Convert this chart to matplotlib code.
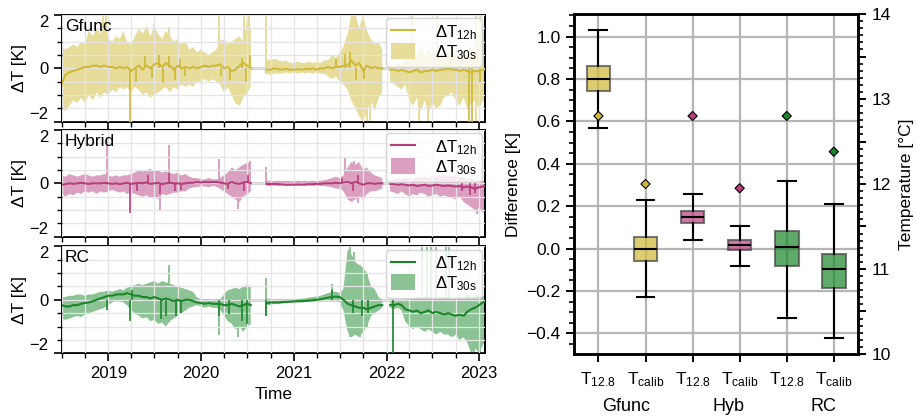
import numpy as np
import pandas as pd
import matplotlib
matplotlib.use('Agg')
import matplotlib.pyplot as plt
import matplotlib.dates as mdates
from matplotlib.ticker import MultipleLocator, FuncFormatter
from matplotlib.lines import Line2D
from matplotlib.patches import Patch
import matplotlib.transforms as mtrans

plt.rcParams['font.family'] = ['Liberation Sans', 'DejaVu Sans']
plt.rcParams['mathtext.fontset'] = 'custom'
plt.rcParams['mathtext.rm'] = 'Liberation Sans'
plt.rcParams['mathtext.it'] = 'Liberation Sans:italic'
plt.rcParams['mathtext.bf'] = 'Liberation Sans:bold'
plt.rcParams['font.size'] = 12

nan = np.nan
# semi-monthly sampling (1st and 15th of each month)
dates = pd.date_range('2018-07-01', '2023-02-01', freq='SMS')

# ---------------- Gfunc ----------------
gf_hi = [0.8, 0.7, 0.8, 0.9, 0.8, 1.0, 0.9, 1.4, 1.2, 1.5,
         1.3, 1.8, 1.1, 1.0, 1.2, 1.1, 1.4, 1.0, 0.9, 1.2,
         1.5, 1.3, 1.6, 1.2, 1.6, 1.3, 1.1, 1.4, 1.2, 1.0,
         1.1, 0.9, 1.0, 0.7, 0.8, 0.6, 0.7, 0.6, 0.5, 0.6,
         0.7, 1.0, 1.1, 0.9, 1.0, 1.1, 1.2, 1.0, 1.9, 1.5,
         nan, nan, nan, 0.35, 0.3, 0.35, 0.3, 0.25, 0.3, 0.2,
         0.2, 0.25, 0.2, 0.2, 0.25, 0.2, 0.25, 0.2, 0.3, 0.3,
         0.5, 0.4, 0.6, 0.8, 1.3, 2.0, 2.0, 1.5, 2.0, 1.4,
         1.1, 0.9, 1.0, 0.7, nan, 0.1, 0.1, 0.15, 0.2, 0.3,
         0.4, 0.6, 0.5, 0.8, 0.5, 0.7, 0.5, 0.8, 0.5, 0.6,
         0.7, 0.5, 0.6, 0.5, 0.7, 0.5, 0.8, 0.6, 1.2, 1.5, 1.2]
gf_lo = [-1.5, -1.6, -1.4, -1.2, -1.3, -1.1, -1.3, -1.0, -1.2, -0.9,
         -1.1, -0.9, -1.0, -0.8, -0.9, -0.7, -0.8, -0.7, -0.9, -0.7,
         -0.8, -1.0, -0.9, -1.1, -1.0, -0.9, -0.8, -0.7, -0.9, -0.7,
         -0.8, -0.6, -0.7, -0.6, -0.7, -0.5, -0.5, -0.4, -0.5, -0.4,
         -0.5, -0.6, -0.9, -0.7, -1.0, -1.3, -1.4, -1.1, -0.9, -0.7,
         nan, nan, nan, -0.2, -0.25, -0.2, -0.2, -0.2, -0.15, -0.2,
         -0.15, -0.2, -0.15, -0.2, -0.15, -0.2, -0.15, -0.2, -0.2, -0.3,
         -0.4, -0.3, -0.5, -0.6, -0.8, -1.2, -1.5, -1.8, -2.0, -1.6,
         -1.2, -1.6, -1.1, -0.9, nan, -0.5, -0.6, -0.7, -0.8, -0.6,
         -1.2, -1.4, -1.1, -1.6, -1.2, -1.7, -1.3, -1.5, -1.4, -1.1,
         -1.0, -0.9, -1.2, -1.4, -1.1, -1.5, -1.3, -1.2, -1.5, -1.2, -1.3]
gf_12h = [-0.6, -0.25, -0.15, -0.1, -0.05, 0.0, 0.05, 0.05, 0.1, 0.1,
          0.05, 0.1, 0.05, 0.05, 0.0, 0.05, 0.0, 0.05, -0.1, 0.0,
          0.1, -0.05, 0.1, 0.0, 0.15, 0.2, 0.05, 0.2, 0.1, -0.05,
          0.1, 0.0, 0.05, 0.0, 0.05, 0.0, 0.05, 0.1, 0.05, 0.1,
          0.1, 0.15, 0.0, 0.05, -0.1, -0.05, 0.1, 0.2, 0.1, 0.0,
          nan, nan, nan, -0.05, -0.05, 0.0, -0.03, -0.05, -0.02, -0.05,
          -0.05, -0.03, -0.05, -0.02, -0.03, 0.0, -0.05, 0.0, 0.0, 0.05,
          0.0, 0.05, 0.05, 0.1, 0.1, 0.3, 0.1, 0.2, -0.1, 0.1,
          0.0, 0.05, 0.0, 0.0, nan, -0.05, -0.05, -0.1, -0.05, -0.1,
          -0.15, -0.1, -0.05, -0.15, -0.1, -0.1, -0.05, -0.1, -0.05, -0.05,
          0.0, -0.05, -0.05, -0.1, -0.05, -0.1, -0.15, -0.1, -0.1, -0.05, -0.05]
gf_sp_dates = ['2018-12-10', '2018-12-22', '2019-06-28', '2019-08-28', '2020-03-10',
               '2020-06-20', '2020-07-08', '2020-09-14', '2021-10-15', '2021-10-28',
               '2022-04-10', '2022-05-10', '2022-06-15', '2022-07-20', '2022-12-20',
               '2023-01-10']
gf_sp_lo = [0.0, 0.0, 0.0, 0.0, 0.0, 0.0, 0.0, -0.2, -2.0, -2.0,
            0.0, -2.0, -2.0, 0.0, -2.0, -1.0]
gf_sp_hi = [2.0, 2.0, 1.65, 1.55, 2.0, 2.0, 2.0, 2.0, 0.0, 0.0,
            2.0, 0.0, 0.0, 2.0, 2.0, 2.0]
gf_ln_dates = ['2019-03-28', '2019-04-20', '2019-05-25', '2019-06-20', '2019-07-20',
               '2019-08-05', '2019-08-28', '2019-09-20', '2019-10-10', '2019-10-28',
               '2020-03-20', '2020-04-25', '2020-06-10', '2020-06-28', '2020-07-10',
               '2021-06-15', '2021-07-20', '2021-08-10', '2021-09-01', '2021-10-05',
               '2022-11-22', '2022-12-03', '2023-01-05']
gf_ln_vals = [-2.0, -0.5, 0.45, -0.35, 0.5, -0.55, 0.45, -0.45, 0.35, -0.3,
              -0.3, -0.45, 0.4, -0.5, 0.5, 0.35, 0.55, 0.6, -0.45, -0.4,
              -2.0, -2.0, -0.5]

# ---------------- Hybrid ----------------
hy_hi = [0.3, 0.25, 0.35, 0.3, 0.25, 0.3, 0.35, 0.3, 0.25, 0.3,
         0.3, 0.35, 0.3, 0.25, 0.3, 0.25, 0.3, 0.3, 0.35, 0.4,
         0.5, 0.45, 0.5, 0.55, 0.45, 0.5, 0.4, 0.45, 0.4, 0.35,
         0.4, 0.3, 0.35, 0.25, 0.2, 0.2, 0.15, 0.15, 0.2, 0.15,
         0.15, 0.2, 0.3, 0.4, 0.6, 0.5, 0.6, 0.7, 0.75, 0.8,
         nan, nan, nan, 0.1, 0.1, 0.08, 0.1, 0.08, 0.1, 0.08,
         0.08, 0.1, 0.08, 0.1, 0.08, 0.1, 0.08, 0.1, 0.12, 0.15,
         0.2, 0.25, 0.2, 0.3, 0.6, 0.8, 0.7, 0.8, 0.5, 0.6,
         0.4, 0.3, 0.25, 0.2, nan, 0.1, 0.15, 0.2, 0.15, 0.2,
         0.2, 0.15, 0.25, 0.2, 0.25, 0.2, 0.3, 0.25, 0.3, 0.25,
         0.3, 0.25, 0.3, 0.2, 0.25, 0.15, 0.2, 0.1, 0.15, 0.1, 0.1]
hy_lo = [-0.4, -0.5, -0.4, -0.45, -0.35, -0.4, -0.3, -0.35, -0.3, -0.4,
         -0.3, -0.35, -0.3, -0.25, -0.3, -0.35, -0.3, -0.4, -0.35, -0.4,
         -0.45, -0.5, -0.45, -0.55, -0.5, -0.6, -0.4, -0.45, -0.4, -0.35,
         -0.35, -0.3, -0.3, -0.2, -0.15, -0.15, -0.1, -0.12, -0.15, -0.1,
         -0.12, -0.2, -0.3, -0.4, -0.5, -0.6, -0.7, -0.5, -0.4, -0.3,
         nan, nan, nan, -0.1, -0.1, -0.08, -0.1, -0.08, -0.1, -0.08,
         -0.08, -0.1, -0.08, -0.1, -0.08, -0.1, -0.08, -0.1, -0.1, -0.12,
         -0.15, -0.2, -0.2, -0.3, -0.6, -0.7, -0.6, -0.5, -0.6, -0.4,
         -0.3, -0.3, -0.25, -0.2, nan, -0.3, -0.35, -0.4, -0.3, -0.4,
         -0.5, -0.4, -0.45, -0.35, -0.4, -0.5, -0.45, -0.4, -0.5, -0.45,
         -0.5, -0.55, -0.6, -0.5, -0.7, -0.8, -0.9, -1.0, -0.9, -1.1, -1.0]
hy_12h = [-0.05, -0.03, 0.0, -0.02, 0.0, 0.02, 0.0, -0.02, 0.0, 0.0,
          0.0, 0.02, 0.0, -0.02, 0.0, -0.03, 0.0, 0.02, -0.02, 0.0,
          0.02, 0.0, 0.03, -0.02, 0.0, 0.02, -0.03, 0.0, 0.02, 0.0,
          0.0, -0.02, 0.0, 0.02, 0.02, 0.05, 0.03, 0.05, 0.04, 0.05,
          0.05, 0.03, 0.0, -0.02, 0.05, 0.0, -0.02, 0.03, 0.05, 0.0,
          nan, nan, nan, -0.02, -0.03, -0.02, -0.03, -0.04, -0.05, -0.05,
          -0.05, -0.04, -0.05, -0.04, -0.03, -0.03, -0.02, -0.02, 0.0, 0.0,
          0.0, 0.02, 0.0, 0.03, 0.05, 0.0, 0.05, 0.0, -0.05, 0.0,
          0.0, -0.02, 0.0, 0.0, nan, -0.02, -0.03, -0.05, -0.03, -0.05,
          -0.08, -0.05, -0.1, -0.08, -0.05, -0.1, -0.08, -0.05, -0.08, -0.1,
          -0.08, -0.1, -0.12, -0.1, -0.15, -0.12, -0.15, -0.2, -0.15, -0.12, -0.1]
hy_sp_dates = ['2018-12-26', '2019-07-22', '2019-08-28', '2020-03-10', '2020-05-25',
               '2020-07-10', '2020-09-14', '2021-07-20', '2021-08-25', '2021-09-10',
               '2022-12-25']
hy_sp_lo = [0.0, -1.0, 0.0, 0.0, -0.95, 0.0, 0.0, 0.0, 0.0, -0.75, -1.15]
hy_sp_hi = [1.6, 0.0, 1.45, 0.9, 0.0, 0.85, 0.6, 0.95, 0.85, 0.0, 0.0]
hy_ln_dates = ['2019-03-28', '2019-04-25', '2019-06-05', '2019-07-22', '2019-08-28',
               '2019-09-20', '2019-10-15', '2020-04-15', '2020-06-20', '2020-07-05',
               '2021-07-10', '2021-08-20', '2021-09-10', '2022-10-25', '2022-11-25',
               '2022-12-15']
hy_ln_vals = [-1.1, -0.3, 0.3, -0.4, 0.4, -0.3, -0.25, -0.2, -0.3, 0.3,
              0.2, -0.3, 0.3, -0.3, -0.45, -0.35]

# ---------------- RC ----------------
rc_hi = [0.1, 0.1, 0.15, 0.15, 0.2, 0.2, 0.15, 0.2, 0.2, 0.25,
         0.3, 0.3, 0.35, 0.3, 0.35, 0.4, 0.35, 0.45, 0.5, 0.55,
         0.6, 0.55, 0.6, 0.65, 0.7, 0.6, 0.7, 0.65, 0.6, 0.55,
         0.5, 0.45, 0.4, 0.35, 0.3, 0.1, 0.0, 0.02, 0.0, 0.0,
         0.02, 0.0, 0.2, 0.35, 0.4, 0.45, 0.4, 0.5, 0.55, 0.5,
         nan, nan, nan, 0.05, 0.03, 0.0, 0.02, 0.0, 0.02, 0.0,
         0.02, 0.03, 0.05, 0.05, 0.08, 0.1, 0.12, 0.15, 0.2, 0.25,
         0.3, 0.3, 0.25, 0.4, 1.9, 1.7, 1.4, 1.3, 1.2, 1.0,
         0.5, 0.4, 0.1, 0.0, nan, -0.05, -0.05, 0.0, -0.05, 0.0,
         0.05, 0.0, 0.1, 0.05, 0.1, 0.05, 0.1, 0.0, 0.1, 0.05,
         0.1, 0.0, 0.05, 0.1, 0.0, 0.2, 0.1, 0.15, 0.2, 0.15, 0.1]
rc_lo = [-0.7, -0.75, -0.7, -0.65, -0.6, -0.65, -0.55, -0.5, -0.45, -0.4,
         -0.35, -0.3, -0.2, -0.1, 0.0, -0.05, -0.1, -0.2, -0.4, -0.5,
         -0.6, -0.7, -0.65, -0.8, -0.75, -0.9, -0.85, -1.0, -0.8, -0.7,
         -0.6, -0.5, -0.4, -0.3, -0.25, -0.2, -0.25, -0.3, -0.25, -0.3,
         -0.3, -0.35, -0.6, -0.8, -0.9, -1.1, -1.0, -1.2, -1.0, -0.9,
         nan, nan, nan, -0.2, -0.2, -0.15, -0.15, -0.15, -0.12, -0.12,
         -0.1, -0.1, -0.1, -0.08, -0.05, -0.05, -0.02, 0.0, 0.0, -0.05,
         0.0, -0.05, -0.1, -0.4, -1.2, -1.4, -1.3, -1.4, -1.2, -1.0,
         -0.6, -0.5, -0.4, -0.3, nan, -0.3, -0.35, -0.3, -0.4, -0.8,
         -1.0, -1.1, -1.0, -1.1, -1.2, -1.1, -1.2, -1.3, -1.2, -1.3,
         -1.3, -1.4, -1.3, -1.5, -1.4, -1.6, -2.0, -1.8, -2.0, -1.7, -1.5]
rc_12h = [-0.2, -0.25, -0.25, -0.2, -0.2, -0.15, -0.12, -0.1, -0.05, 0.0,
          0.05, 0.1, 0.15, 0.15, 0.2, 0.2, 0.2, 0.25, 0.2, 0.15,
          0.15, 0.1, 0.1, 0.05, 0.1, 0.05, 0.0, 0.05, 0.0, -0.05,
          0.0, -0.05, 0.0, 0.0, -0.05, -0.1, -0.12, -0.15, -0.12, -0.15,
          -0.15, -0.15, -0.2, -0.2, -0.15, -0.2, -0.25, -0.2, -0.15, -0.2,
          nan, nan, nan, -0.12, -0.1, -0.1, -0.1, -0.08, -0.08, -0.07,
          -0.06, -0.05, -0.05, -0.04, -0.03, -0.02, 0.0, 0.02, 0.05, 0.08,
          0.1, 0.12, 0.1, 0.0, -0.15, -0.2, -0.25, -0.3, -0.3, -0.35,
          -0.3, -0.25, -0.2, -0.2, nan, -0.2, -0.2, -0.15, -0.2, -0.35,
          -0.4, -0.45, -0.4, -0.5, -0.45, -0.4, -0.5, -0.45, -0.5, -0.55,
          -0.5, -0.55, -0.6, -0.55, -0.6, -0.45, -0.35, -0.3, -0.2, -0.1, -0.05]
rc_sp_dates = ['2019-08-28', '2020-03-10', '2020-05-25', '2020-09-14', '2021-06-01',
               '2021-08-10', '2021-08-25', '2021-09-20', '2021-10-15', '2022-05-20',
               '2022-06-10', '2022-06-25', '2022-07-15', '2022-08-25', '2022-09-05',
               '2022-12-10', '2023-01-05']
rc_sp_lo = [0.0, -1.3, -1.4, -0.6, 0.0, -1.4, 0.0, -1.4, -1.0, 0.0,
            0.0, 0.0, 0.0, 0.0, 0.0, -2.0, -2.0]
rc_sp_hi = [1.3, 0.0, 0.0, 0.8, 0.6, 2.0, 1.8, 1.3, 1.0, 2.0,
            2.0, 2.0, 2.0, 2.0, 2.0, 0.0, 0.0]
rc_ln_dates = ['2018-12-28', '2019-03-28', '2019-04-05', '2019-07-28', '2019-08-15',
               '2019-09-25', '2019-10-15', '2020-03-10', '2020-04-20', '2020-06-10',
               '2020-07-01', '2020-09-14', '2021-06-01', '2021-08-20', '2021-09-25',
               '2021-10-20', '2022-01-25']
rc_ln_vals = [-0.4, -0.8, 0.35, -0.7, -0.6, -0.6, -0.5, -0.6, -0.55, -0.8,
              -0.9, -0.6, 0.35, -0.5, -0.6, -0.5, -2.0]

panels = ['Gfunc', 'Hybrid', 'RC']
base_colors = ['#d0b933', '#b73e7e', '#1a8629']
band_colors = ['#e7dc99', '#dba0c0', '#8cc394']

# ---------------- Box plot data ----------------
box_labels = [r'T$_{\mathrm{12.8}}$', r'T$_{\mathrm{calib}}$'] * 3
box_q1 = [0.746, -0.058, 0.12, -0.005, -0.082, -0.187]
box_med = [0.80, 0.0, 0.148, 0.016, 0.006, -0.097]
box_q3 = [0.86, 0.057, 0.178, 0.04, 0.083, -0.027]
box_whislo = [0.571, -0.226, 0.04, -0.08, -0.325, -0.42]
box_whishi = [1.03, 0.229, 0.26, 0.107, 0.32, 0.21]
temp_vals = [12.8, 12.0, 12.8, 11.95, 12.8, 12.38]
groups = ['Gfunc', 'Hyb', 'RC']

# ---------------- Figure ----------------
fig = plt.figure(figsize=(9.16, 4.17), dpi=100)
ax_rects = [[0.0674, 0.7082, 0.4621, 0.2559],
            [0.0674, 0.4324, 0.4621, 0.2559],
            [0.0674, 0.1528, 0.4621, 0.2566]]
series = [(gf_hi, gf_lo, gf_12h, gf_sp_dates, gf_sp_lo, gf_sp_hi, gf_ln_dates, gf_ln_vals),
          (hy_hi, hy_lo, hy_12h, hy_sp_dates, hy_sp_lo, hy_sp_hi, hy_ln_dates, hy_ln_vals),
          (rc_hi, rc_lo, rc_12h, rc_sp_dates, rc_sp_lo, rc_sp_hi, rc_ln_dates, rc_ln_vals)]

xmin = pd.Timestamp('2018-07-01')
xmax = pd.Timestamp('2023-01-24')
axes = []
for k, rect in enumerate(ax_rects):
    ax = fig.add_axes(rect)
    axes.append(ax)
    hi, lo, m12, spd, splo, sphi, lnd, lnv = series[k]
    hi = np.array(hi, float); lo = np.array(lo, float); m12 = np.array(m12, float)
    ax.axhline(0, color='#222222', lw=1.0, zorder=0.5)
    ax.fill_between(dates, lo, hi, color=band_colors[k], lw=0, zorder=1)
    ax.vlines(pd.to_datetime(spd), splo, sphi, color=band_colors[k], lw=1.4, zorder=1.2)
    ax.plot(dates, m12, color=base_colors[k], lw=1.5, zorder=3)
    ax.vlines(pd.to_datetime(lnd), 0, lnv, color=base_colors[k], lw=1.2, zorder=3)
    ax.set_xlim(xmin, xmax)
    ax.set_ylim(-2, 2)
    ax.set_yticks([-2, 0, 2])
    ax.set_yticklabels(['\u22122', '0', '2'])
    tl = ax.get_yticklabels()
    tl[0].set_va('bottom')
    tl[2].set_va('top')
    ax.yaxis.set_minor_locator(MultipleLocator(0.5))
    ax.xaxis.set_major_locator(mdates.YearLocator())
    ax.xaxis.set_minor_locator(mdates.MonthLocator(bymonth=[1, 4, 7, 10]))
    ax.xaxis.set_major_formatter(mdates.DateFormatter('%Y'))
    ax.grid(True, which='both', color='#e4e4e4', lw=0.9, zorder=2.5)
    ax.set_axisbelow(False)
    ax.tick_params(which='major', direction='out', length=6, width=1.2, labelsize=12)
    ax.tick_params(which='minor', direction='out', length=3.5, width=1.0)
    for s in ax.spines.values():
        s.set_linewidth(1.4)
    ax.set_ylabel('ΔT [K]', fontsize=12.5, labelpad=2)
    ax.text(0.008, 0.965, panels[k], transform=ax.transAxes, ha='left', va='top',
            fontsize=12.5, zorder=5)
    handles = [Line2D([], [], color=base_colors[k], lw=1.5),
               Patch(facecolor=band_colors[k], edgecolor='none')]
    leg = ax.legend(handles, [r'ΔT$_{\mathrm{12h}}$', r'ΔT$_{\mathrm{30s}}$'],
                    loc='upper right', fontsize=12, handlelength=1.4, handleheight=1.1,
                    labelspacing=0.05, borderaxespad=0.2, borderpad=0.3,
                    handletextpad=1.2, framealpha=0.8, edgecolor='#cccccc')
    leg.set_zorder(6)
    if k < 2:
        ax.tick_params(axis='x', labelbottom=False)
axes[2].set_xlabel('Time', fontsize=12.5, labelpad=4)

# ---------------- Box plot ----------------
axb = fig.add_axes([0.6266, 0.1511, 0.3104, 0.8153])
pos = [1, 2, 3, 4, 5, 6]
stats = []
for i in range(6):
    stats.append(dict(label=box_labels[i], q1=box_q1[i], med=box_med[i], q3=box_q3[i],
                      whislo=box_whislo[i], whishi=box_whishi[i]))
bp = axb.bxp(stats, positions=pos, widths=0.5, patch_artist=True, showfliers=False,
             capwidths=0.38, manage_ticks=False,
             boxprops=dict(edgecolor='#444444', linewidth=1.5, alpha=0.7),
             medianprops=dict(color='k', linewidth=1.5),
             whiskerprops=dict(color='k', linewidth=1.5),
             capprops=dict(color='k', linewidth=1.5), zorder=3)
box_cols = [base_colors[0], base_colors[0], base_colors[1], base_colors[1],
            base_colors[2], base_colors[2]]
for patch, c in zip(bp['boxes'], box_cols):
    patch.set_facecolor(c)
    patch.set_alpha(0.7)
axb.set_xlim(0.48, 6.52)
axb.set_ylim(-0.497, 1.107)
axb.set_xticks(pos)
axb.set_xticklabels(box_labels, fontsize=12.5)
axb.yaxis.set_major_locator(MultipleLocator(0.2))
axb.yaxis.set_minor_locator(MultipleLocator(0.05))
axb.yaxis.set_major_formatter(FuncFormatter(lambda v, p: ('%.1f' % v).replace('-', '\u2212')))
axb.grid(True, which='major', color='#b5b5b5', lw=1.6)
axb.set_axisbelow(True)
axb.tick_params(which='major', direction='out', length=6, width=1.4, labelsize=12.5)
axb.tick_params(axis='x', pad=6)
axb.tick_params(which='minor', direction='out', length=3.5, width=1.2)
for s in axb.spines.values():
    s.set_linewidth(1.8)
axb.set_ylabel('Difference [K]', fontsize=12.5, labelpad=4)
trans = mtrans.blended_transform_factory(axb.transData, axb.transAxes)
for gx, g in zip([1.58, 3.77, 5.77], groups):
    axb.text(gx, -0.155, g, transform=trans, ha='center', va='center', fontsize=13)

ax2 = axb.twinx()
ax2.set_ylim(10, 14)
ax2.yaxis.set_major_locator(MultipleLocator(0.5))
ax2.yaxis.set_major_formatter(FuncFormatter(lambda v, p: '%d' % round(v) if abs(v - round(v)) < 1e-6 else ''))
ax2.yaxis.set_minor_locator(MultipleLocator(1 / 12))
ax2.tick_params(which='major', direction='out', length=6, width=1.4, labelsize=12.5)
ax2.tick_params(which='minor', direction='out', length=3.5, width=1.2)
for s in ax2.spines.values():
    s.set_linewidth(1.8)
ax2.scatter(pos, temp_vals, marker='D', s=22, c=box_cols, edgecolors='k', linewidths=0.8, zorder=5)
ax2.set_ylabel('Temperature [°C]', fontsize=12.5, labelpad=6)

fig.savefig('out.png', dpi=100)
